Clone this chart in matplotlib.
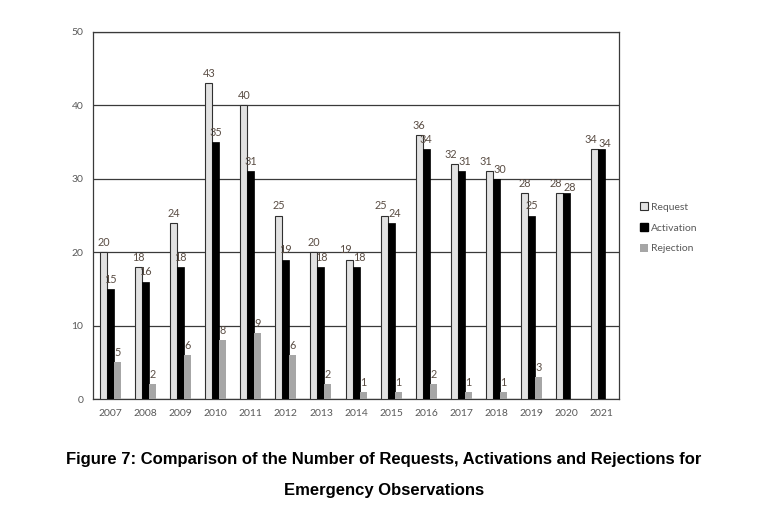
import numpy as np
import matplotlib
matplotlib.use("Agg")
import matplotlib.pyplot as plt
from matplotlib.patches import Patch

years = ['2007', '2008', '2009', '2010', '2011', '2012', '2013', '2014',
         '2015', '2016', '2017', '2018', '2019', '2020', '2021']
request = [20, 18, 24, 43, 40, 25, 20, 19, 25, 36, 32, 31, 28, 28, 34]
activation = [15, 16, 18, 35, 31, 19, 18, 18, 24, 34, 31, 30, 25, 28, 34]
rejection = [5, 2, 6, 8, 9, 6, 2, 1, 1, 2, 1, 1, 3, 0, 0]

label_color = '#5a4d44'
tick_color = '#595959'

fig = plt.figure(figsize=(7.68, 5.15), dpi=100)
ax = fig.add_axes([0.1211, 0.2252, 0.685, 0.7127])

x = np.arange(len(years))
w = 0.2
b1 = ax.bar(x - w, request, w, color='#e2e2e2', edgecolor='#303030', linewidth=0.8, zorder=3)
b2 = ax.bar(x, activation, w, color='black', edgecolor='black', linewidth=0.5, zorder=3)
b3 = ax.bar(x + w, rejection, w, color='#a6a6a6', linewidth=0, zorder=3)

for i, (bars, vals) in enumerate([(b1, request), (b2, activation), (b3, rejection)]):
    for j, (bar, v) in enumerate(zip(bars, vals)):
        if v == 0:
            continue
        dx, dy = 0, 3
        # pull apart labels of request/activation when the bars are nearly equal
        if i < 2 and abs(request[j] - activation[j]) <= 1:
            dx = -2.5 if i == 0 else 2.5
            if i == 1 and request[j] == activation[j]:
                dy = 0.5
        ax.annotate(str(v), (bar.get_x() + bar.get_width() / 2, v),
                    xytext=(dx, dy), textcoords='offset points',
                    ha='center', va='bottom', fontsize=7.8,
                    color=label_color, family='Lato')

ax.set_xlim(-0.5, len(years) - 0.5)
ax.set_ylim(0, 50)
ax.set_yticks(range(0, 51, 10))
ax.yaxis.grid(True, color='#3a3a3a', linewidth=0.9, zorder=0)
ax.set_axisbelow(True)
ax.set_xticks(x)
ax.set_xticklabels(years)
ax.tick_params(length=0, labelsize=7.5, colors=tick_color)
ax.tick_params(axis='x', pad=7)
ax.tick_params(axis='y', pad=7)
for lab in ax.get_xticklabels() + ax.get_yticklabels():
    lab.set_family('Lato')
for s in ax.spines.values():
    s.set_color('#3a3a3a')
    s.set_linewidth(0.9)

handles = [Patch(facecolor='#e2e2e2', edgecolor='#303030', linewidth=0.8),
           Patch(facecolor='black', edgecolor='black'),
           Patch(facecolor='#a6a6a6', edgecolor='none')]
fig.legend(handles, ['Request', 'Activation', 'Rejection'],
           loc='upper left', bbox_to_anchor=(0.821, 0.625), frameon=False,
           prop={'family': 'Lato', 'size': 7.5}, labelcolor=tick_color,
           handlelength=0.8, handleheight=0.8, handletextpad=0.3,
           labelspacing=1.05)

fig.text(0.5, 0.107, 'Figure 7: Comparison of the Number of Requests, Activations and Rejections for',
         ha='center', va='center', fontsize=12, fontweight='bold', family='Liberation Sans')
fig.text(0.5, 0.048, 'Emergency Observations',
         ha='center', va='center', fontsize=12, fontweight='bold', family='Liberation Sans')

fig.savefig('out.png', dpi=100)
